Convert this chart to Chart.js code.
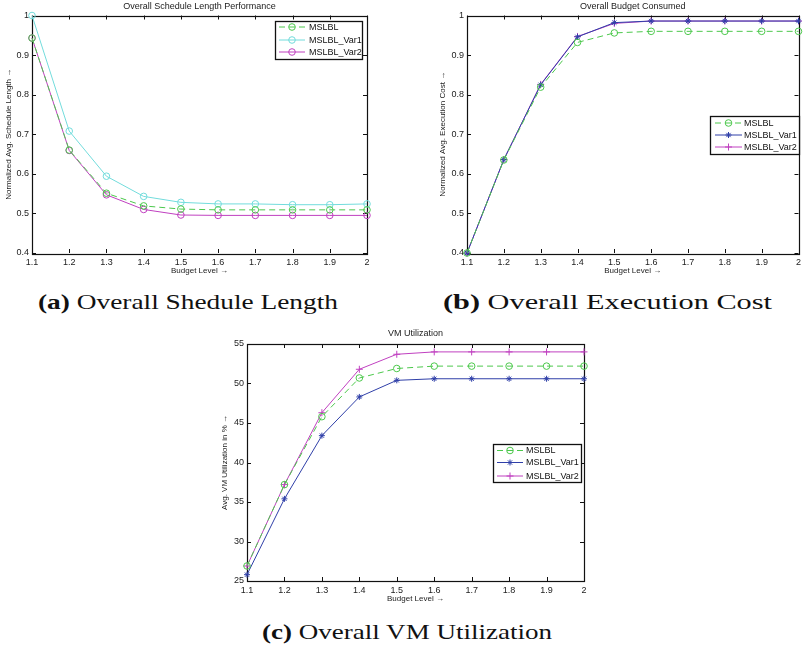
<!DOCTYPE html>
<html>
<head>
<meta charset="utf-8">
<script src="https://cdn.jsdelivr.net/npm/chart.js@4.4.1/dist/chart.umd.min.js"></script>
<style>
  html, body { margin: 0; padding: 0; background: #fff; }
  body { position: relative; width: 803px; height: 648px; overflow: hidden; }
  canvas { position: absolute; }
  .cap { position: absolute; font-family: "Liberation Serif", "DejaVu Serif", serif; font-size: 22px;
         color: #111; white-space: nowrap; line-height: 1; transform-origin: 0 50%; }
  .cap b { font-weight: bold; }
</style>
</head>
<body>
<canvas id="chartLength" width="400" height="280" style="left:0px;top:0px"></canvas>
<canvas id="chartCost" width="369" height="280" style="left:434px;top:0px"></canvas>
<canvas id="chartUtil" width="384" height="283" style="left:216px;top:325px"></canvas>
<div class="cap" id="capA" data-w="300" style="left:38px;top:291px"><b>(a)</b> Overall Shedule Length</div>
<div class="cap" id="capB" data-w="329" style="left:443px;top:291px"><b>(b)</b> Overall Execution Cost</div>
<div class="cap" id="capC" data-w="290" style="left:262px;top:621px"><b>(c)</b> Overall VM Utilization</div>
<script>
// Budget levels on the x axis
const budgetLevels = ['1.1', '1.2', '1.3', '1.4', '1.5', '1.6', '1.7', '1.8', '1.9', '2'];
const seriesNames = ['MSLBL', 'MSLBL_Var1', 'MSLBL_Var2'];

// (a) normalized average schedule length
const lengthMSLBL = [0.943, 0.660, 0.551, 0.519, 0.511, 0.509, 0.509, 0.509, 0.509, 0.509];
const lengthVar1  = [1.000, 0.708, 0.594, 0.543, 0.528, 0.524, 0.524, 0.522, 0.522, 0.524];
const lengthVar2  = [0.943, 0.659, 0.547, 0.510, 0.496, 0.495, 0.495, 0.495, 0.495, 0.495];

// (b) normalized average execution cost
const costMSLBL = [0.400, 0.635, 0.819, 0.932, 0.956, 0.960, 0.960, 0.960, 0.960, 0.960];
const costVar1  = [0.400, 0.636, 0.825, 0.946, 0.982, 0.986, 0.986, 0.986, 0.986, 0.986];
const costVar2  = [0.400, 0.636, 0.826, 0.947, 0.980, 0.986, 0.986, 0.986, 0.986, 0.986];

// (c) average VM utilization in %
const utilMSLBL = [26.9, 37.2, 45.8, 50.7, 51.9, 52.2, 52.2, 52.2, 52.2, 52.2];
const utilVar1  = [25.8, 35.4, 43.4, 48.3, 50.4, 50.6, 50.6, 50.6, 50.6, 50.6];
const utilVar2  = [26.9, 37.2, 46.3, 51.8, 53.7, 54.0, 54.0, 54.0, 54.0, 54.0];

const SANS = '"Liberation Sans", Arial, Helvetica, sans-serif';
const GREEN = '#4cc84c', CYAN = '#72dcdc', MAGENTA = '#c040c0', BLUE = '#2f3fa8';
const DASH = [6, 4];

// box around the plot with inward tick marks on all four sides
const matlabFrame = {
  id: 'matlabFrame',
  beforeDatasetsDraw(chart) {
    const { ctx, chartArea: { left, right, top, bottom }, scales: { x, y } } = chart;
    const t = 4;
    ctx.save();
    ctx.strokeStyle = '#111';
    ctx.lineWidth = 1;
    ctx.beginPath();
    x.ticks.forEach((tk, i) => {
      const px = Math.round(x.getPixelForTick(i)) + 0.5;
      ctx.moveTo(px, bottom); ctx.lineTo(px, bottom - t);
      ctx.moveTo(px, top); ctx.lineTo(px, top + t);
    });
    y.ticks.forEach((tk, i) => {
      const py = Math.round(y.getPixelForTick(i)) + 0.5;
      ctx.moveTo(left, py); ctx.lineTo(left + t, py);
      ctx.moveTo(right, py); ctx.lineTo(right - t, py);
    });
    ctx.stroke();
    ctx.lineWidth = 1.2;
    ctx.strokeRect(Math.round(left) + 0.5, Math.round(top) + 0.5,
                   Math.round(right - left), Math.round(bottom - top));
    ctx.restore();
  }
};

// boxed legend drawn inside the plot area
const matlabLegend = {
  id: 'matlabLegend',
  afterDraw(chart, args, opts) {
    if (!opts || !opts.box) return;
    const { ctx } = chart;
    const b = opts.box;
    ctx.save();
    ctx.fillStyle = '#fff';
    ctx.fillRect(b.x, b.y, b.w, b.h);
    ctx.strokeStyle = '#111';
    ctx.lineWidth = 1.3;
    ctx.strokeRect(b.x + 0.5, b.y + 0.5, b.w, b.h);
    chart.data.datasets.forEach((ds, i) => {
      const ry = opts.rows[i];
      ctx.strokeStyle = ds.borderColor;
      ctx.lineWidth = 1;
      ctx.setLineDash(ds.borderDash || []);
      ctx.beginPath();
      ctx.moveTo(opts.x1, ry); ctx.lineTo(opts.x2, ry);
      ctx.stroke();
      ctx.setLineDash([]);
      ctx.fillStyle = ds.pointBackgroundColor;
      ctx.strokeStyle = ds.pointBorderColor;
      Chart.helpers.drawPoint(ctx, {
        pointStyle: ds.pointStyle, radius: ds.pointRadius, borderWidth: 1, rotation: 0
      }, (opts.x1 + opts.x2) / 2, ry);
      ctx.fillStyle = '#111';
      ctx.font = '9px ' + SANS;
      ctx.textBaseline = 'middle';
      ctx.textAlign = 'left';
      ctx.fillText(ds.label, opts.tx, ry + 0.5);
    });
    ctx.restore();
  }
};

function series(label, data, color, point, radius, dash) {
  return {
    label, data, borderColor: color, backgroundColor: 'transparent',
    borderWidth: 1, borderDash: dash || [], tension: 0, clip: false,
    pointStyle: point, pointRadius: radius, pointHoverRadius: radius,
    pointBorderColor: color, pointBackgroundColor: point === 'circle' ? 'rgba(0,0,0,0)' : color,
    pointBorderWidth: 1
  };
}

// tick text without trailing zeros: 1, 0.9, 0.8 ...
const plainTick = v => String(Number(v.toFixed(3)));

function makeChart(id, o) {
  return new Chart(document.getElementById(id), {
    type: 'line',
    data: { labels: budgetLevels, datasets: o.datasets },
    options: {
      responsive: false, animation: false, devicePixelRatio: 1,
      layout: { padding: { left: 0, right: o.padRight, top: 0, bottom: 0 } },
      plugins: {
        legend: { display: false },
        tooltip: { enabled: false },
        title: {
          display: true, text: o.title, fullSize: false, color: '#222',
          font: { family: SANS, size: 9, weight: 'normal' }, padding: o.titlePad
        },
        matlabLegend: o.legend
      },
      scales: {
        x: {
          type: 'category', offset: false,
          grid: { display: false, drawTicks: false }, border: { display: false },
          ticks: { font: { family: SANS, size: 9 }, color: '#222', padding: 4, maxRotation: 0, autoSkip: false },
          title: { display: true, text: 'Budget Level →', color: '#222',
                   font: { family: SANS, size: 8 }, padding: { top: 0, bottom: 4.2 } },
          afterFit(s) { s.height = 27; s.paddingLeft = 0; s.paddingRight = 0; }
        },
        y: {
          type: 'linear', min: o.yMin, max: o.yMax,
          grid: { display: false, drawTicks: false }, border: { display: false },
          ticks: { stepSize: o.yStep, font: { family: SANS, size: 9 }, color: '#222', padding: 3,
                   callback: plainTick },
          title: { display: true, text: o.yTitle, color: '#222',
                   font: { family: SANS, size: 8 }, padding: { top: 4.2, bottom: 0 } },
          afterFit(s) { s.width = o.yWidth; s.paddingTop = 0; s.paddingBottom = 0; }
        }
      }
    },
    plugins: [matlabFrame, matlabLegend]
  });
}

makeChart('chartLength', {
  title: 'Overall Schedule Length Performance',
  titlePad: { top: 1.3, bottom: 3.4 },
  yTitle: 'Normalized Avg. Schedule Length →',
  yMin: 0.4, yMax: 1, yStep: 0.1, yWidth: 32, padRight: 33,
  datasets: [
    series(seriesNames[0], lengthMSLBL, GREEN, 'circle', 3.3, DASH),
    series(seriesNames[1], lengthVar1, CYAN, 'circle', 3.3),
    series(seriesNames[2], lengthVar2, MAGENTA, 'circle', 3.3)
  ],
  legend: { box: { x: 275, y: 21, w: 87, h: 38 }, rows: [27, 40, 52], x1: 279, x2: 305, tx: 309 }
});

makeChart('chartCost', {
  title: 'Overall Budget Consumed',
  titlePad: { top: 1.3, bottom: 3.4 },
  yTitle: 'Normalized Avg. Execution Cost →',
  yMin: 0.4, yMax: 1, yStep: 0.1, yWidth: 33, padRight: 1,
  datasets: [
    series(seriesNames[0], costMSLBL, GREEN, 'circle', 3.3, DASH),
    series(seriesNames[1], costVar1, BLUE, 'star', 3),
    series(seriesNames[2], costVar2, MAGENTA, 'cross', 3.5)
  ],
  legend: { box: { x: 710 - 434, y: 116, w: 89, h: 38 }, rows: [123, 135, 147], x1: 715 - 434, x2: 742 - 434, tx: 744 - 434 }
});

makeChart('chartUtil', {
  title: 'VM Utilization',
  titlePad: { top: 3.6, bottom: 4.6 },
  yTitle: 'Avg. VM Utilization in % →',
  yMin: 25, yMax: 55, yStep: 5, yWidth: 31, padRight: 16,
  datasets: [
    series(seriesNames[0], utilMSLBL, GREEN, 'circle', 3.3, DASH),
    series(seriesNames[1], utilVar1, BLUE, 'star', 3),
    series(seriesNames[2], utilVar2, MAGENTA, 'cross', 3.5)
  ],
  legend: { box: { x: 493 - 216, y: 444 - 325, w: 88, h: 38 }, rows: [125.5, 137.5, 151], x1: 497 - 216, x2: 523 - 216, tx: 526 - 216 }
});

// stretch each caption horizontally to its intended width
document.querySelectorAll('.cap').forEach(el => {
  const target = +el.dataset.w;
  const w = el.getBoundingClientRect().width;
  el.style.transform = 'scaleX(' + (target / w).toFixed(3) + ')';
});
</script>
</body>
</html>
